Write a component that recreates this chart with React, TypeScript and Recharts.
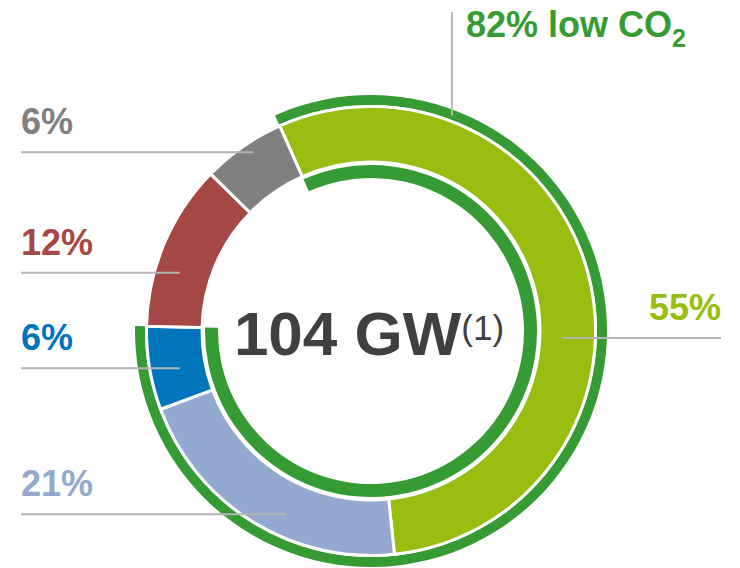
import React from "react";
import { PieChart, Pie, Cell } from "recharts";

// slices of the 104 GW, clockwise from the top
const segments = ["green", "lightBlue", "blue", "red", "grey"];
const shares = [55, 21, 6, 12, 6];
const shareLabels = ["55%", "21%", "6%", "12%", "6%"];

// low CO2 part (green + light blue + blue) vs the rest
const lowCo2Names = ["lowCo2", "rest"];
const lowCo2Shares = [82, 18];

const totalLabel = "104 GW";
const totalNote = "(1)";
const titleMain = "82% low CO";
const titleSub = "2";

const COLORS: Record<string, string> = {
  green: "#96bd0f",
  lightBlue: "#94a9cf",
  blue: "#0075bc",
  red: "#a54745",
  grey: "#808080"
};
const RING = "#379b35";
const LEADER = "#b5b5b5";
const FONT = '"Liberation Sans", Arial, sans-serif';

// where each leader line meets its slice: [angle in degrees, radius]
const anchors: Record<string, [number, number]> = {
  grey: [123.4, 214],
  red: [163.1, 200],
  blue: [191, 195],
  lightBlue: [245.1, 202],
  green: [-2.1, 192]
};

const RAD = Math.PI / 180;
const START = 114;
const END = START - 360;
const CX = 371;
const CY = 331;

const mainData = segments.map((name, i) => ({ name, value: shares[i], label: shareLabels[i] }));
const ringData = lowCo2Names.map((name, i) => ({ name, value: lowCo2Shares[i] }));

const renderShare = (p: any) => {
  const name = p.payload?.name ?? p.name;
  const label = p.payload?.label;
  const [a, r] = anchors[name];
  const x = p.cx + r * Math.cos(a * RAD);
  const y = p.cy - r * Math.sin(a * RAD);
  const right = x > p.cx;
  const edge = right ? p.cx + 350 : p.cx - 350;
  return (
    <g key={"lbl-" + name}>
      <line x1={edge} y1={y} x2={x} y2={y} stroke={LEADER} strokeWidth={2} />
      <text
        x={edge}
        y={y - 18}
        textAnchor={right ? "end" : "start"}
        fill={COLORS[name]}
        fontSize={36}
        fontWeight="bold"
        fontFamily={FONT}
      >
        {label}
      </text>
    </g>
  );
};

const renderTitle = (p: any) => {
  if (p.index !== 0) return null;
  const a = 69.4;
  const r = 230;
  const x = p.cx + r * Math.cos(a * RAD);
  const y = p.cy - r * Math.sin(a * RAD);
  return (
    <g key="title">
      <line x1={x} y1={p.cy - 319} x2={x} y2={y} stroke={LEADER} strokeWidth={2} />
      <text x={x + 14} y={p.cy - 294} fill={RING} fontFamily={FONT} fontWeight="bold">
        <tspan fontSize={36}>{titleMain}</tspan>
        <tspan fontSize={25} dy={10}>{titleSub}</tspan>
      </text>
    </g>
  );
};

const renderCenter = (p: any) => {
  if (p.index !== 0) return null;
  return (
    <text key="center" x={p.cx - 2} y={p.cy + 24} textAnchor="middle" fill="#404040" fontFamily={FONT}>
      <tspan fontSize={62} fontWeight="bold">{totalLabel}</tspan>
      <tspan fontSize={35} dy={-15}>{totalNote}</tspan>
    </text>
  );
};

export default function App() {
  return (
    <div style={{ position: "absolute", left: 0, top: 0, width: 740, height: 568 }}>
      <PieChart width={740} height={568} margin={{ top: 0, right: 0, bottom: 0, left: 0 }}>
        <Pie
          data={ringData}
          dataKey="value"
          cx={CX}
          cy={CY}
          startAngle={START}
          endAngle={END}
          innerRadius={226}
          outerRadius={236}
          stroke="none"
          label={renderTitle}
          labelLine={false}
          isAnimationActive={false}
        >
          {ringData.map((d, i) => (
            <Cell key={d.name} fill={i === 0 ? RING : "none"} />
          ))}
        </Pie>
        <Pie
          data={ringData}
          dataKey="value"
          cx={CX}
          cy={CY}
          startAngle={START}
          endAngle={END}
          innerRadius={153}
          outerRadius={166}
          stroke="none"
          label={renderCenter}
          labelLine={false}
          isAnimationActive={false}
        >
          {ringData.map((d, i) => (
            <Cell key={d.name} fill={i === 0 ? RING : "none"} />
          ))}
        </Pie>
        <Pie
          data={mainData}
          dataKey="value"
          cx={CX}
          cy={CY}
          startAngle={START}
          endAngle={END}
          innerRadius={169}
          outerRadius={224.5}
          stroke="#ffffff"
          strokeWidth={3}
          label={renderShare}
          labelLine={false}
          isAnimationActive={false}
        >
          {mainData.map((d) => (
            <Cell key={d.name} fill={COLORS[d.name]} />
          ))}
        </Pie>
      </PieChart>
    </div>
  );
}
